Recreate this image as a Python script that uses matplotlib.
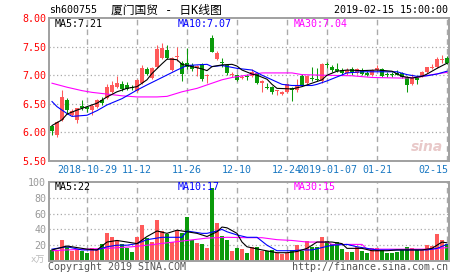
import matplotlib.pyplot as plt
import matplotlib.transforms as mtransforms
import numpy as np

plt.rcParams['font.family'] = ['DejaVu Sans Mono', 'Noto Sans CJK SC']

# daily candles 2018-10-18 .. 2019-02-15 (80 trading days)
opens = [6.11, 5.96, 6.22, 6.56, 6.30, 6.22, 6.46, 6.44, 6.39, 6.45,
         6.57, 6.60, 6.71, 6.79, 6.85, 6.83, 6.80, 6.72, 6.86, 7.10,
         6.95, 7.15, 7.30, 7.44, 7.09, 7.31, 7.21, 7.21, 7.17, 7.12,
         7.19, 6.98, 7.65, 7.29, 7.23, 7.18, 7.00, 7.00, 6.95, 6.98,
         6.99, 7.03, 6.87, 6.80, 6.80, 6.73, 6.68, 6.70, 6.78, 6.74,
         6.98, 6.86, 6.95, 6.94, 6.89, 7.19, 7.15, 7.11, 7.09, 7.03,
         7.10, 7.03, 7.08, 7.03, 7.00, 7.09, 7.11, 7.02, 7.02, 7.04,
         7.03, 6.96, 6.85, 6.95, 6.98, 7.05, 7.13, 7.14, 7.27, 7.30]
highs = [6.13, 6.20, 6.75, 6.60, 6.41, 6.43, 6.56, 6.47, 6.50, 6.58,
         6.62, 6.84, 6.89, 6.99, 6.89, 6.88, 6.82, 6.93, 7.18, 7.14,
         7.14, 7.52, 7.57, 7.53, 7.32, 7.50, 7.24, 7.48, 7.21, 7.18,
         7.22, 7.02, 7.70, 7.42, 7.30, 7.20, 7.06, 7.02, 7.00, 7.02,
         7.10, 7.05, 6.91, 6.86, 6.81, 6.75, 6.73, 6.86, 6.80, 6.93,
         7.02, 7.00, 7.15, 7.12, 7.22, 7.23, 7.17, 7.21, 7.12, 7.12,
         7.14, 7.13, 7.12, 7.07, 7.11, 7.17, 7.12, 7.05, 7.05, 7.09,
         7.05, 6.98, 7.02, 6.97, 7.07, 7.15, 7.20, 7.32, 7.35, 7.33]
lows = [5.96, 5.92, 6.20, 6.33, 6.28, 6.17, 6.40, 6.36, 6.30, 6.43,
        6.48, 6.58, 6.69, 6.77, 6.72, 6.74, 6.74, 6.70, 6.84, 7.00,
        6.93, 7.12, 7.28, 7.28, 7.07, 7.24, 6.89, 7.10, 7.08, 6.98,
        6.90, 6.86, 7.40, 7.27, 7.15, 7.00, 6.96, 6.90, 6.93, 6.92,
        6.97, 6.85, 6.71, 6.76, 6.67, 6.65, 6.65, 6.69, 6.55, 6.70,
        6.81, 6.84, 6.90, 6.90, 6.86, 7.12, 7.06, 7.06, 7.00, 7.01,
        7.00, 7.02, 7.00, 6.98, 6.99, 7.07, 6.97, 6.97, 6.97, 7.01,
        6.95, 6.71, 6.83, 6.85, 6.96, 7.04, 7.10, 7.12, 7.22, 7.20]
closes = [6.03, 6.18, 6.62, 6.40, 6.38, 6.42, 6.42, 6.41, 6.47, 6.56,
          6.51, 6.79, 6.82, 6.87, 6.76, 6.76, 6.77, 6.92, 7.13, 7.02,
          7.12, 7.45, 7.47, 7.30, 7.30, 7.33, 7.02, 7.15, 7.10, 7.16,
          6.93, 7.00, 7.41, 7.39, 7.21, 7.03, 7.02, 6.92, 6.97, 6.96,
          7.05, 6.86, 6.89, 6.78, 6.71, 6.75, 6.71, 6.84, 6.75, 6.83,
          6.83, 6.99, 6.93, 6.92, 7.20, 7.17, 7.09, 7.08, 7.03, 7.09,
          7.05, 7.11, 7.02, 7.01, 7.09, 7.13, 6.99, 7.00, 7.00, 7.00,
          6.96, 6.82, 6.96, 6.91, 7.05, 7.14, 7.15, 7.28, 7.29, 7.22]
volumes = [14, 12.5, 26, 18, 13, 15, 13, 10, 17, 15,
           21, 36, 31, 26, 22, 17, 11, 30, 45, 29,
           24, 52, 38, 34, 24, 39, 36, 56, 27, 23,
           22, 16, 92, 48, 32, 27, 13, 16, 15, 10,
           18, 18, 13, 13, 14, 10.5, 9, 10.5, 14, 20,
           13, 25, 18, 18, 31, 25, 22, 24, 15, 12,
           12, 18, 13, 10.5, 16, 16, 14, 10, 10.5, 12,
           14, 18, 16, 14, 14, 20, 19, 34, 27, 21]

# moving averages (candle index, value)
ma5_idx = [0, 2, 3, 5, 7, 9, 11, 13, 15, 17, 19, 20, 22, 23, 24, 25, 26, 28, 30, 31,
           32, 34, 36, 37, 38, 40, 41, 43, 44, 45, 48, 50, 52, 54, 55, 57, 59, 62, 65,
           68, 70, 72, 74, 75, 77, 79]
ma5_val = [6.12, 6.22, 6.32, 6.39, 6.45, 6.51, 6.62, 6.71, 6.77, 6.80, 6.92, 7.03, 7.20,
           7.28, 7.28, 7.27, 7.19, 7.15, 7.11, 7.08, 7.15, 7.18, 7.19, 7.16, 7.09, 7.02,
           7.00, 6.93, 6.84, 6.77, 6.76, 6.80, 6.86, 6.92, 7.00, 7.07, 7.09, 7.08, 7.09,
           7.07, 6.98, 6.95, 6.98, 7.02, 7.12, 7.21]
ma10_idx = [0, 1, 3, 4, 7, 9, 11, 14, 15, 17, 19, 22, 25, 27, 31, 32, 34, 37, 40, 42,
            44, 46, 48, 52, 53, 55, 57, 59, 62, 69, 71, 73, 75, 77, 79]
ma10_val = [6.54, 6.45, 6.33, 6.28, 6.30, 6.38, 6.48, 6.59, 6.64, 6.74, 6.83, 6.96, 7.09,
            7.17, 7.19, 7.15, 7.17, 7.12, 7.09, 7.00, 6.92, 6.84, 6.82, 6.82, 6.84, 6.90,
            6.97, 7.04, 7.06, 7.06, 7.01, 6.98, 6.99, 7.02, 7.07]
ma30_idx = [0, 3, 6, 8, 11, 14, 17, 21, 23, 26, 29, 32, 34, 36, 39, 42, 48, 50, 54, 60,
            64, 70, 73, 76, 79]
ma30_val = [6.86, 6.79, 6.73, 6.70, 6.67, 6.64, 6.62, 6.62, 6.63, 6.71, 6.77, 6.86, 6.92,
            6.96, 7.00, 7.04, 7.04, 7.01, 7.00, 6.99, 6.96, 6.95, 6.96, 7.01, 7.05]

vma5_idx = [0, 3, 7, 9, 11, 13, 15, 17, 19, 21, 23, 25, 27, 29, 31, 33, 34, 35, 37, 38,
            39, 42, 45, 47, 49, 51, 53, 56, 58, 59, 62, 64, 67, 69, 74, 76, 78, 79]
vma5_val = [14, 19, 15, 14, 24, 26, 24, 22, 31, 38, 35, 39, 37, 35, 31, 37, 43, 42, 35, 24,
            18, 14, 10.5, 10.5, 12, 16, 24, 24, 22, 16, 16, 13, 13, 14, 14, 16, 24, 23]
vma10_idx = [0, 3, 6, 9, 11, 13, 15, 17, 19, 22, 26, 27, 30, 31, 33, 34, 35, 37, 39, 41,
             43, 45, 48, 50, 52, 54, 56, 59, 61, 65, 72, 75, 77, 79]
vma10_val = [15, 18, 14, 14, 18, 20, 20, 22, 27, 30, 30, 38, 35, 35, 38, 40, 37, 33, 30, 30,
             20, 13, 13, 14, 14, 17, 20, 21, 18, 14, 14, 14, 16, 21]
vma30_idx = [0, 3, 7, 11, 16, 19, 23, 27, 31, 35, 39, 42, 45, 48, 51, 55, 56, 62, 63, 66,
             76, 79]
vma30_val = [13, 14, 15, 16, 18, 20, 23, 26, 29, 30, 29.5, 29.5, 27, 26, 24, 24, 21, 21,
             15, 15, 15, 17]

date_idx = [7, 17, 27, 37, 47, 55, 65, 79]
date_labels = ["2018-10-29", "11-12", "11-26", "12-10", "12-24",
               "2019-01-07", "01-21", "02-15"]

price_ticks = [5.5, 6.0, 6.5, 7.0, 7.5, 8.0]
vol_ticks = [20, 40, 60, 80, 100]

RED = "#ff5a5a"
GREEN = "#0a9a0a"
FRAME = "#a0a0a0"
GRID = "#aaaaaa"
BLUE_TXT = "#1a78c2"
FS = 7.2
LW = 0.8

W, H = 472, 273
fig = plt.figure(figsize=(W / 100, H / 100), dpi=100)
ax = fig.add_axes([49 / W, 1 - 161 / H, 400 / W, 143 / H])
axv = fig.add_axes([49 / W, 1 - 261 / H, 400 / W, 79 / H])

x = np.arange(len(closes))
o = np.array(opens)
c = np.array(closes)
up = c >= o
colors = np.where(up, RED, GREEN)

for a in (ax, axv):
    a.set_xlim(-0.6, 79.4)
    for s in a.spines.values():
        s.set_color(FRAME)
        s.set_linewidth(1.4)
    a.tick_params(length=0, labelsize=FS, pad=2)
    a.set_xticks([])
    for d in date_idx:
        a.axvline(d, color=GRID, lw=1.0, ls=(0, (4, 3)), zorder=0)

# price panel
ax.set_ylim(5.5, 8.0)
for lv in price_ticks[1:-1]:
    ax.axhline(lv, color=GRID, lw=0.9, ls=(0, (1, 2)), zorder=0)
ax.set_yticks(price_ticks)
ax.set_yticklabels([f"{v:.2f}" for v in price_ticks], color="#ff0000")

ax.vlines(x, lows, highs, colors=colors, lw=0.75, zorder=2)
body_h = np.maximum(np.abs(c - o), 0.015)
ax.bar(x, body_h, 0.7, bottom=np.minimum(o, c), color=colors, linewidth=0, zorder=3)

ax.plot(ma30_idx, ma30_val, color="#ff00ff", lw=LW, zorder=4)
ax.plot(ma10_idx, ma10_val, color="#0000ff", lw=LW, zorder=4)
ax.plot(ma5_idx, ma5_val, color="black", lw=LW, zorder=4)

trans = mtransforms.blended_transform_factory(ax.transData, ax.transAxes)
for d, lab in zip(date_idx, date_labels):
    ha = "right" if d == date_idx[-1] else "center"
    xx = d + 0.3 if ha == "right" else d
    ax.text(xx, -0.063, lab, transform=trans, ha=ha, va="center",
            fontsize=FS, color=BLUE_TXT)

ax.text(0.985, 0.05, "sina", transform=ax.transAxes, ha="right", va="bottom",
        fontsize=10, fontweight="bold", style="italic", color="#e9c9c9",
        family="DejaVu Sans")

# volume panel
axv.set_ylim(0, 100)
for lv in vol_ticks[:-1]:
    axv.axhline(lv, color=GRID, lw=0.9, ls=(0, (1, 2)), zorder=0)
axv.set_yticks(vol_ticks)
axv.set_yticklabels([str(v) for v in vol_ticks], color="#999999")
axv.bar(x, volumes, 0.8, color=colors, linewidth=0, zorder=2)
axv.plot(vma30_idx, vma30_val, color="#ff00ff", lw=LW, zorder=4)
axv.plot(vma10_idx, vma10_val, color="#0000ff", lw=LW, zorder=4)
axv.plot(vma5_idx, vma5_val, color="black", lw=LW, zorder=4)

# header and legends
def px(xp, yp):
    return xp / W, 1 - yp / H

fig.text(*px(49, 10), "sh600755", va="center", fontsize=FS)
fig.text(*px(166, 10), "厦门国贸 - 日K线图", ha="center", va="center", fontsize=8.5)
fig.text(*px(448, 10), "2019-02-15 15:00:00", ha="right", va="center", fontsize=FS)

fig.text(*px(55, 24), f"MA5:{ma5_val[-1]:.2f}", va="center", fontsize=FS)
fig.text(*px(178, 24), f"MA10:{ma10_val[-1]:.2f}", va="center", fontsize=FS, color="#0000ff")
fig.text(*px(294, 24), "MA30:7.04", va="center", fontsize=FS, color="#ff00ff")

fig.text(*px(55, 187), "MA5:22", va="center", fontsize=FS)
fig.text(*px(178, 187), "MA10:17", va="center", fontsize=FS, color="#0000ff")
fig.text(*px(294, 187), "MA30:15", va="center", fontsize=FS, color="#ff00ff")

fig.text(*px(31, 260), "x万", va="center", fontsize=6.5, color="#bbbbbb")
fig.text(*px(48, 267), "Copyright 2019 SINA.COM", va="center", fontsize=FS, color="#555555")
fig.text(*px(448, 267), "http://finance.sina.com.cn", ha="right", va="center",
         fontsize=FS, color="#555555")

fig.savefig("out.png", dpi=100, facecolor="white")
